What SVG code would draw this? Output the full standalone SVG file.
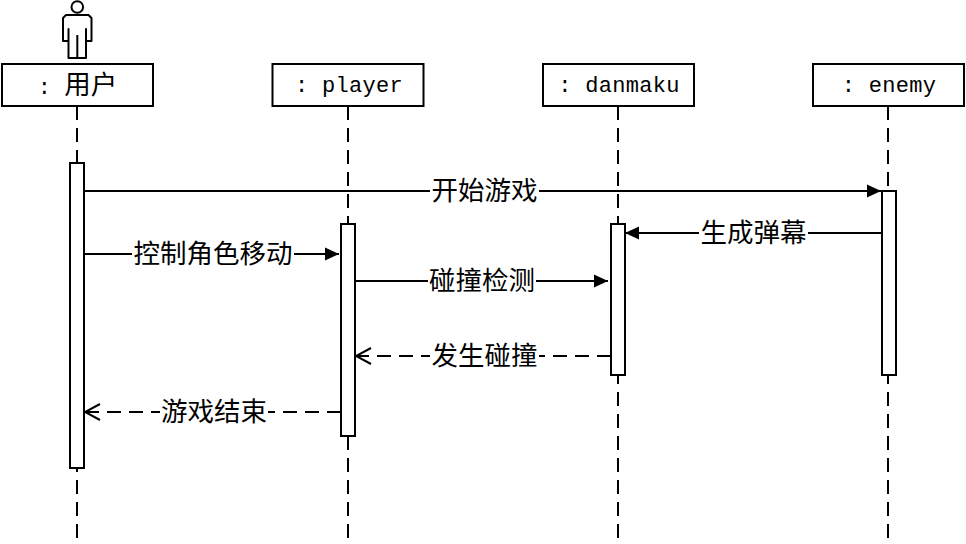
<svg xmlns="http://www.w3.org/2000/svg" width="966" height="544" viewBox="0 0 966 544">
<style>
.b{fill:#fff;stroke:#000;stroke-width:2}
.l{fill:none;stroke:#000;stroke-width:2}
.d{stroke-dasharray:14 8}
.ll{fill:none;stroke:#000;stroke-width:2;stroke-dasharray:14 8}
.a{fill:#fff;stroke:#000;stroke-width:2}
.t{font-family:"Noto Sans CJK SC","Liberation Serif",serif;font-size:26.5px;fill:#000;text-anchor:middle}
.n{font-family:"Liberation Mono","Noto Sans CJK SC",monospace;font-size:22px;fill:#000;text-anchor:middle}
.c{font-family:"Noto Sans CJK SC",sans-serif;font-size:26.5px}
.bg{fill:#fff}
</style>
<defs>
<marker id="f" markerUnits="userSpaceOnUse" markerWidth="15" markerHeight="15" refX="14" refY="7" orient="auto"><path d="M0,0.500 L14,7 L0,13.500 Z" fill="#000"/></marker>
<marker id="o" markerUnits="userSpaceOnUse" markerWidth="18" markerHeight="18" refX="16" refY="9" orient="auto"><path d="M1,1 L16,9 L1,17" fill="none" stroke="#000" stroke-width="2"/></marker>
</defs>
<rect width="966" height="544" fill="#fff"/>
<g id="lifelines">
<path class="ll" d="M77,106V538"/>
<path class="ll" d="M348,106V538"/>
<path class="ll" d="M618,106V538"/>
<path class="ll" d="M888,106V538"/>
</g>
<g id="actor">
<circle cx="77.300" cy="7" r="5.800" class="l"/>
<path class="l" stroke-linejoin="round" d="M66,15H88.500L91.500,18V41H86V29V58H68.500V29V41H63V18Z"/>
<path class="l" d="M77.300,35V58"/>
</g>
<g id="node-user"><rect class="b" x="2" y="64" width="151" height="42"/><text class="n" x="77.500" y="94">: <tspan class="c">用户</tspan></text></g>
<g id="node-player"><rect class="b" x="272.500" y="64" width="151" height="42"/><text class="n" x="349" y="92" letter-spacing="0.300">: player</text></g>
<g id="node-danmaku"><rect class="b" x="543" y="64" width="151" height="42"/><text class="n" x="619" y="92" letter-spacing="0.300">: danmaku</text></g>
<g id="node-enemy"><rect class="b" x="813" y="64" width="151" height="42"/><text class="n" x="889" y="92" letter-spacing="0.300">: enemy</text></g>
<g id="activations">
<rect class="a" x="70" y="163" width="14" height="305"/>
<rect class="a" x="341" y="224" width="14" height="212"/>
<rect class="a" x="611" y="224" width="14" height="151"/>
<rect class="a" x="882" y="191" width="14" height="184"/>
</g>
<g id="connectors">
<path class="l" d="M85,191H881" marker-end="url(#f)"/>
<path class="l" d="M882,233H625" marker-end="url(#f)"/>
<path class="l" d="M85,254H339" marker-end="url(#f)"/>
<path class="l" d="M355,281H608" marker-end="url(#f)"/>
<path class="l d" d="M611,356H356" marker-end="url(#o)"/>
<path class="l d" d="M341,412H85" marker-end="url(#o)"/>
</g>
<g id="labels">
<rect class="bg" x="430" y="176" width="109" height="30"/><text class="t" x="484.500" y="200">开始游戏</text>
<rect class="bg" x="699" y="218" width="109" height="30"/><text class="t" x="753.500" y="242">生成弹幕</text>
<rect class="bg" x="132" y="239" width="162" height="30"/><text class="t" x="213" y="263">控制角色移动</text>
<rect class="bg" x="428" y="266" width="108" height="30"/><text class="t" x="482" y="290">碰撞检测</text>
<rect class="bg" x="430" y="341" width="109" height="30"/><text class="t" x="484.500" y="365">发生碰撞</text>
<rect class="bg" x="160" y="397" width="108" height="30"/><text class="t" x="214" y="421">游戏结束</text>
</g>
</svg>
